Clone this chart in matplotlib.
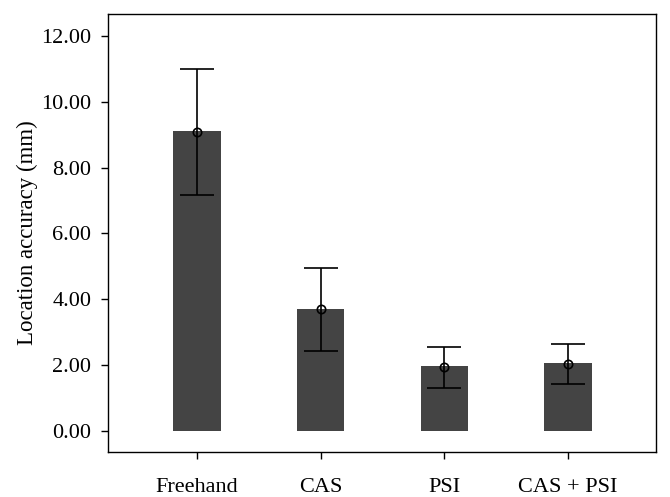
import matplotlib
matplotlib.use("Agg")
import matplotlib.pyplot as plt
import numpy as np

groups = ["Freehand", "CAS", "PSI", "CAS + PSI"]
means = [9.08, 3.69, 1.94, 2.04]
bar_heights = [9.12, 3.72, 1.96, 2.07]
err = [1.92, 1.25, 0.62, 0.61]
yticks = [0, 2, 4, 6, 8, 10, 12]

plt.rcParams['font.family'] = ['Liberation Serif', 'DejaVu Serif']

fig = plt.figure(figsize=(6.7, 4.97), dpi=100)
ax = fig.add_axes([0.161, 0.0905, 0.818, 0.8815])

x = np.arange(len(groups))
ax.bar(x, bar_heights, width=0.385, color='#444444', zorder=1)
ax.errorbar(x, means, yerr=err, fmt='o', mfc='none', mec='black', ms=6,
            mew=1.2, ecolor='black', elinewidth=1.2, capsize=12, capthick=1.2,
            zorder=2)

ax.set_xlim(-0.72, 3.71)
ax.set_ylim(-0.64, 12.67)
ax.set_yticks(yticks)
ax.set_yticklabels(["%.2f" % v for v in yticks])
ax.set_xticks(x)
ax.set_xticklabels(groups)
ax.tick_params(labelsize=16, length=5, width=1, direction='out')
ax.tick_params(axis='y', pad=7)
ax.tick_params(axis='x', pad=14)
ax.set_ylabel("Location accuracy (mm)", fontsize=16.5)
ax.yaxis.set_label_coords(-0.128, 0.5)
for s in ax.spines.values():
    s.set_linewidth(1)

fig.savefig("out.png", dpi=100)
